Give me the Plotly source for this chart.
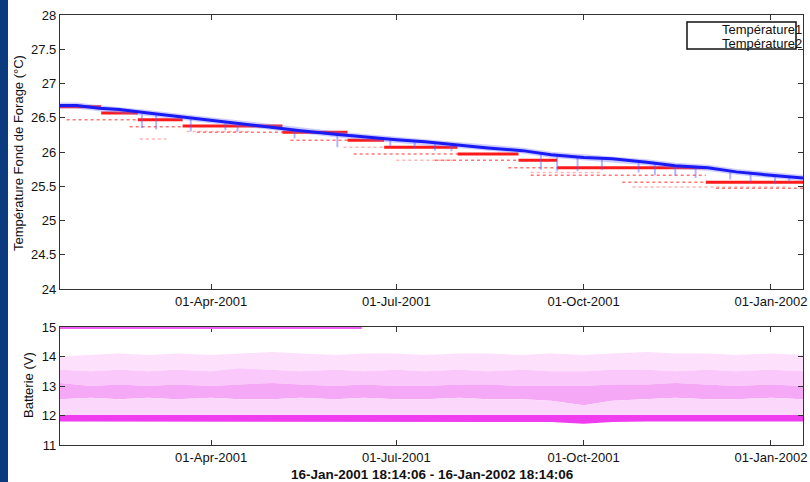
import plotly.graph_objects as go

FONT = "Liberation Sans, Arial, Helvetica, sans-serif"
W, H = 810, 482

T0 = "2001-01-16 18:14:06"
T1 = "2002-01-16 18:14:06"

# ---------------- data ----------------
# Temperature 2 (blue) - centre of the dense band
blue_dates = [T0, "2001-01-25", "2001-02-05", "2001-02-15", "2001-03-01", "2001-03-15",
              "2001-04-01", "2001-04-15", "2001-05-01", "2001-05-15", "2001-06-01",
              "2001-06-15", "2001-07-01", "2001-07-15", "2001-08-01", "2001-08-15",
              "2001-09-01", "2001-09-15", "2001-10-01", "2001-10-15", "2001-11-01",
              "2001-11-15", "2001-12-01", "2001-12-15", "2002-01-01", T1]
blue_vals = [26.68, 26.68, 26.64, 26.62, 26.57, 26.52,
             26.46, 26.41, 26.36, 26.31, 26.26,
             26.22, 26.18, 26.15, 26.10, 26.06,
             26.02, 25.96, 25.92, 25.90, 25.85,
             25.80, 25.77, 25.71, 25.66, 25.62]

# blue sporadic low readings (top of streak, bottom of streak)
dip_dates = ["2001-02-26", "2001-03-05", "2001-03-22", "2001-04-08", "2001-04-14",
             "2001-05-12", "2001-06-02", "2001-06-28", "2001-07-10", "2001-07-20",
             "2001-07-28", "2001-09-10", "2001-09-18", "2001-09-28", "2001-10-10",
             "2001-10-28", "2001-11-05", "2001-11-15", "2001-11-25", "2001-12-12",
             "2001-12-22", "2002-01-03", "2002-01-10"]
dip_top = [26.55, 26.54, 26.50, 26.45, 26.42, 26.33, 26.25, 26.18, 26.15, 26.13,
           26.11, 25.98, 25.95, 25.92, 25.91, 25.86, 25.84, 25.80, 25.78, 25.72,
           25.69, 25.66, 25.64]
dip_low = [26.35, 26.33, 26.30, 26.32, 26.30, 26.20, 26.07, 26.08, 26.05, 26.02,
           26.01, 25.74, 25.72, 25.72, 25.74, 25.70, 25.66, 25.66, 25.62, 25.60,
           25.56, 25.53, 25.56]

# Temperature 1 (red) - quantised steps (level starts at date, ends at next date)
red_dates = [T0, "2001-02-06", "2001-02-24", "2001-03-18", "2001-05-06", "2001-06-07",
             "2001-06-25", "2001-07-31", "2001-08-30", "2001-09-18", "2001-11-30", T1]
red_vals = [26.66, 26.57, 26.47, 26.38, 26.29, 26.17,
            26.07, 25.97, 25.88, 25.77, 25.56, 25.56]

# secondary (sparser) red level
red2_start = ["2001-01-20", "2001-02-20", "2001-03-25", "2001-05-10", "2001-06-10",
              "2001-07-20", "2001-08-25", "2001-09-05", "2001-10-20", "2001-12-05"]
red2_end = ["2001-02-24", "2001-03-18", "2001-05-06", "2001-06-07", "2001-07-31",
            "2001-08-30", "2001-09-18", "2001-11-30", "2001-12-20", T1]
red2_level = [26.47, 26.37, 26.29, 26.17, 25.97, 25.88, 25.77, 25.66, 25.56, 25.47]

# tertiary (very sparse) red level
red3_start = ["2001-02-25", "2001-03-20", "2001-06-05", "2001-07-01", "2001-09-05", "2001-10-25"]
red3_end = ["2001-03-10", "2001-04-20", "2001-06-25", "2001-07-30", "2001-10-10", "2002-01-10"]
red3_level = [26.19, 26.30, 26.07, 25.88, 25.70, 25.49]

# Batterie (V) envelopes
batt_dates = [T0, "2001-02-01", "2001-02-15", "2001-03-01", "2001-03-15", "2001-04-01",
              "2001-04-15", "2001-05-01", "2001-05-15", "2001-06-01", "2001-06-15",
              "2001-07-01", "2001-07-15", "2001-08-01", "2001-08-15", "2001-09-01",
              "2001-09-15", "2001-10-01", "2001-10-15", "2001-11-01", "2001-11-15",
              "2001-12-01", "2001-12-15", "2002-01-01", T1]
batt_max = [14.00, 14.05, 14.10, 14.05, 14.10, 14.05, 14.10, 14.15, 14.10, 14.05,
            14.10, 14.10, 14.05, 14.10, 14.10, 14.05, 14.10, 14.05, 14.10, 14.15,
            14.10, 14.10, 14.05, 14.10, 14.05]
batt_upper = [13.55, 13.50, 13.55, 13.50, 13.55, 13.50, 13.60, 13.55, 13.50, 13.55,
              13.50, 13.55, 13.50, 13.55, 13.50, 13.55, 13.50, 13.50, 13.55, 13.55,
              13.50, 13.55, 13.50, 13.55, 13.50]
batt_mid_hi = [13.10, 13.00, 13.05, 13.00, 13.05, 13.00, 13.05, 13.10, 13.05, 13.00,
               13.05, 13.00, 13.00, 13.05, 13.05, 13.00, 13.00, 13.00, 13.05, 13.05,
               13.10, 13.05, 13.00, 13.05, 13.00]
batt_mid_lo = [12.55, 12.60, 12.55, 12.60, 12.55, 12.60, 12.55, 12.55, 12.60, 12.55,
               12.60, 12.55, 12.55, 12.60, 12.55, 12.55, 12.50, 12.35, 12.50, 12.55,
               12.60, 12.55, 12.55, 12.60, 12.55]
batt_low_hi = [12.02, 12.02, 12.02, 12.02, 12.02, 12.02, 12.02, 12.02, 12.02, 12.02,
               12.02, 12.02, 12.02, 12.02, 12.02, 12.02, 12.02, 12.02, 12.03, 12.02,
               12.02, 12.02, 12.02, 12.02, 12.02]
batt_low_lo = [11.80, 11.80, 11.80, 11.80, 11.80, 11.80, 11.80, 11.80, 11.80, 11.80,
               11.80, 11.80, 11.80, 11.80, 11.80, 11.80, 11.78, 11.72, 11.78, 11.80,
               11.80, 11.80, 11.80, 11.80, 11.80]
batt_clip_dates = [T0, "2001-06-14"]
batt_clip_val = 15.0

x_tickvals = ["2001-04-01", "2001-07-01", "2001-10-01", "2002-01-01"]
x_ticktext = ["01-Apr-2001", "01-Jul-2001", "01-Oct-2001", "01-Jan-2002"]
legend_names = ["Température1", "Température2"]

# ---------------- figure ----------------
fig = go.Figure()

# --- top panel ---
def segments(starts, ends, levels):
    xs, ys = [], []
    for s, e, lv in zip(starts, ends, levels):
        xs += [s, e, None]
        ys += [lv, lv, None]
    return xs, ys

xs, ys = segments(red3_start, red3_end, red3_level)
fig.add_trace(go.Scatter(x=xs, y=ys, mode="lines", xaxis="x", yaxis="y",
                         line=dict(color="rgba(255,90,90,0.45)", width=1.5, dash="dot"),
                         showlegend=False, hoverinfo="skip"))
xs, ys = segments(red2_start, red2_end, red2_level)
fig.add_trace(go.Scatter(x=xs, y=ys, mode="lines", xaxis="x", yaxis="y",
                         line=dict(color="rgba(255,60,60,0.7)", width=1.5, dash="dot"),
                         showlegend=False, hoverinfo="skip"))
xs, ys = segments(red_dates[:-1], red_dates[1:], red_vals[:-1])
fig.add_trace(go.Scatter(x=xs, y=ys, mode="lines", name=legend_names[0],
                         xaxis="x", yaxis="y", line=dict(color="#ff1a1a", width=3),
                         showlegend=False))
fig.add_trace(go.Scatter(x=dip_dates, y=dip_top, mode="markers", xaxis="x", yaxis="y",
                         marker=dict(size=1, color="rgba(0,0,0,0)"),
                         error_y=dict(type="data", symmetric=False,
                                      array=[0] * len(dip_top),
                                      arrayminus=[t - l for t, l in zip(dip_top, dip_low)],
                                      color="rgba(90,90,255,0.45)", thickness=2, width=0),
                         showlegend=False, hoverinfo="skip"))
fig.add_trace(go.Scatter(x=blue_dates, y=blue_vals, mode="lines", xaxis="x", yaxis="y",
                         line=dict(color="rgba(110,110,255,0.35)", width=6),
                         showlegend=False, hoverinfo="skip"))
fig.add_trace(go.Scatter(x=blue_dates, y=blue_vals, mode="lines", name=legend_names[1],
                         xaxis="x", yaxis="y", line=dict(color="#1a1af5", width=3),
                         showlegend=False))

# --- bottom panel (battery) ---
def band(lo, hi, color):
    fig.add_trace(go.Scatter(x=batt_dates, y=lo, mode="lines", xaxis="x2", yaxis="y2",
                             line=dict(width=0, color=color), showlegend=False, hoverinfo="skip"))
    fig.add_trace(go.Scatter(x=batt_dates, y=hi, mode="lines", xaxis="x2", yaxis="y2",
                             line=dict(width=0, color=color), fill="tonexty", fillcolor=color,
                             showlegend=False, hoverinfo="skip"))

band(batt_upper, batt_max, "#fce0fc")
band(batt_mid_hi, batt_upper, "#fac8fa")
band(batt_mid_lo, batt_mid_hi, "#f5a8f5")
band(batt_low_hi, batt_mid_lo, "#fbd8fb")
band(batt_low_lo, batt_low_hi, "#ee3cee")

# clipped readings along the 15 V border
fig.add_shape(type="line", xref="x2", yref="y2",
              x0=batt_clip_dates[0], x1=batt_clip_dates[1], y0=batt_clip_val, y1=batt_clip_val,
              line=dict(color="#f060f0", width=4), layer="above")

x0d, x1d = 60 / W, 803 / W
axis_common = dict(showline=True, linecolor="#333333", linewidth=1.3, mirror="ticks",
                   ticks="inside", ticklen=5, tickcolor="#333333", tickwidth=1,
                   showgrid=False, zeroline=False, automargin=False,
                   tickfont=dict(family=FONT, size=13, color="#111111"))

fig.update_layout(
    width=W, height=H,
    margin=dict(l=0, r=0, t=0, b=0, pad=0, autoexpand=False),
    paper_bgcolor="white", plot_bgcolor="white",
    showlegend=False,
    xaxis=dict(domain=[x0d, x1d], type="date", range=[T0, T1], anchor="y",
               tickmode="array", tickvals=x_tickvals, ticktext=x_ticktext, **axis_common),
    yaxis=dict(domain=[(H - 289) / H, (H - 15) / H], range=[24, 28], anchor="x",
               tickmode="array", tickvals=[24, 24.5, 25, 25.5, 26, 26.5, 27, 27.5, 28],
               ticktext=["24", "24.5", "25", "25.5", "26", "26.5", "27", "27.5", "28"],
               **axis_common),
    xaxis2=dict(domain=[x0d, x1d], type="date", range=[T0, T1], anchor="y2",
                tickmode="array", tickvals=x_tickvals, ticktext=x_ticktext, **axis_common),
    yaxis2=dict(domain=[(H - 445) / H, (H - 327) / H], range=[11, 15], anchor="x2",
                tickmode="array", tickvals=[11, 12, 13, 14, 15],
                ticktext=["11", "12", "13", "14", "15"], **axis_common),
)

# left slide band
fig.add_shape(type="rect", xref="paper", yref="paper", x0=0, x1=8 / W, y0=0, y1=1,
              fillcolor="#0b3a7e", line=dict(width=0), layer="below")

# legend box (drawn manually)
fig.add_shape(type="rect", xref="paper", yref="paper",
              x0=687 / W, x1=796 / W, y0=(H - 49) / H, y1=(H - 22) / H,
              fillcolor="white", line=dict(color="#111111", width=1.5), layer="above")
for i, nm in enumerate(legend_names):
    fig.add_annotation(xref="paper", yref="paper", x=720 / W, y=(H - (29 + 14 * i)) / H,
                       text=nm, showarrow=False, xanchor="left", yanchor="middle",
                       font=dict(family=FONT, size=13, color="#111111"))

# axis titles
fig.add_annotation(xref="paper", yref="paper", x=18 / W, y=(H - 153) / H,
                   text="Température Fond de Forage (°C)", showarrow=False, textangle=-90,
                   xanchor="center", yanchor="middle",
                   font=dict(family=FONT, size=13, color="#111111"))
fig.add_annotation(xref="paper", yref="paper", x=28 / W, y=(H - 385) / H,
                   text="Batterie (V)", showarrow=False, textangle=-90,
                   xanchor="center", yanchor="middle",
                   font=dict(family=FONT, size=13, color="#111111"))
fig.add_annotation(xref="paper", yref="paper", x=432 / W, y=(H - 474) / H,
                   text="<b>16-Jan-2001 18:14:06 - 16-Jan-2002 18:14:06</b>", showarrow=False,
                   xanchor="center", yanchor="middle",
                   font=dict(family=FONT, size=13.5, color="#111111"))

fig.write_html("out.html")
